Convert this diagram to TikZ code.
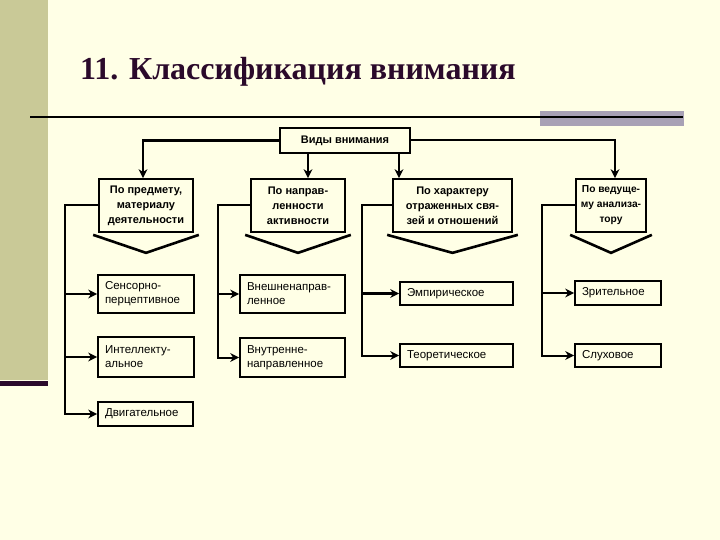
\documentclass[tikz,border=0pt]{standalone}
\usepackage{fontspec}
\setmainfont{Liberation Sans}
\newfontfamily\titlefont{Liberation Serif}
\usetikzlibrary{arrows.meta,calc}
\definecolor{bgc}{HTML}{FFFFE6}
\definecolor{bandc}{HTML}{C9C997}
\definecolor{purp}{HTML}{2B0A2B}
\definecolor{grayb}{HTML}{A8A1B5}
\tikzset{
  box/.style={draw=black,line width=1.7pt,fill=bgc,inner sep=2pt,font=\fontsize{11.5}{14}\selectfont},
  headbox/.style={box,font=\fontsize{11}{15}\selectfont\bfseries,align=center},
  leafbox/.style={box,align=left,inner xsep=7pt},
  conn/.style={line width=2pt,line cap=rect},
  arr/.style={line width=2pt,-{Stealth[length=9pt,width=9pt]}},
  chev/.style={line width=2.6pt,line join=miter}
}
\begin{document}
\begin{tikzpicture}[x=1pt,y=-1pt]
\useasboundingbox (0,0) rectangle (720,540);
\fill[bgc] (0,0) rectangle (720,540);
% left band
\fill[bandc] (0,0) rectangle (48,380);
\fill[purp] (0,381) rectangle (48,386);
% gray bar and rule
\fill[grayb] (540,111) rectangle (684,126);
\draw[black,line width=2pt] (30,117.5) -- (683,117.5);
% title
\node[anchor=base west,inner sep=0pt,text=purp,font=\titlefont\fontsize{32}{36}\selectfont\bfseries] (title) at (80,80) {11. Классификация внимания};

% top box
\node[headbox,minimum width=130pt,minimum height=25pt] (vid) at (345,140.5) {Виды внимания};
% level 1
\node[headbox,minimum width=94pt,minimum height=53pt] (b1) at (146,205.5) {По предмету,\\материалу\\деятельности};
\node[headbox,minimum width=94pt,minimum height=53pt] (b2) at (298,205.5) {По направ-\\ленности\\активности};
\node[headbox,minimum width=119pt,minimum height=53pt] (b3) at (452.5,205.5) {По характеру\\отраженных свя-\\зей и отношений};
\node[headbox,minimum width=70pt,minimum height=53pt,font=\fontsize{10.2}{15}\selectfont\bfseries] (b4) at (611,205.5) {По ведуще-\\му анализа-\\тору};

% chevrons
\foreach \n in {b1,b2,b3,b4}{
  \draw[chev] ([xshift=-5pt,yshift=-2pt]\n.south west) -- ([yshift=-20pt]\n.south) -- ([xshift=5pt,yshift=-2pt]\n.south east);
}

% arrows from top box
\coordinate (a1) at ([xshift=-3pt]b1.north);
\coordinate (a2) at ([xshift=10pt]b2.north);
\coordinate (a3) at ([xshift=-53.5pt]b3.north);
\coordinate (a4) at ([xshift=4pt]b4.north);
\draw[arr,line width=2.6pt] (vid.west) -| (a1);
\draw[arr] (vid.south -| a2) -- (a2);
\draw[arr,line width=2.6pt] (vid.south -| a3) -- (a3);
\draw[arr] (vid.east) -| (a4);

% level 2 nodes
\node[leafbox,minimum width=96pt,minimum height=38pt,text width=82pt] (c11) at (146,294) {Сенсорно-\\перцептивное};
\node[leafbox,minimum width=96pt,minimum height=40pt,text width=82pt] (c12) at (146,357) {Интеллекту-\\альное};
\node[leafbox,minimum width=95pt,minimum height=24pt,text width=81pt] (c13) at (145.5,414) {Двигательное};
\node[leafbox,minimum width=105pt,minimum height=38pt,text width=91pt] (c21) at (292.5,294) {Внешненаправ-\\ленное};
\node[leafbox,minimum width=105pt,minimum height=39pt,text width=91pt] (c22) at (292.5,357.5) {Внутренне-\\направленное};
\node[leafbox,minimum width=113pt,minimum height=23pt,text width=99pt] (c31) at (456.5,293.5) {Эмпирическое};
\node[leafbox,minimum width=113pt,minimum height=23pt,text width=99pt] (c32) at (456.5,355.5) {Теоретическое};
\node[leafbox,minimum width=86pt,minimum height=24pt,text width=72pt] (c41) at (618,293) {Зрительное};
\node[leafbox,minimum width=86pt,minimum height=23pt,text width=72pt] (c42) at (618,355.5) {Слуховое};

% group spines
\coordinate (k1) at (65,0);
\coordinate (k2) at (218,0);
\coordinate (k3) at (362,0);
\coordinate (k4) at (542,0);
\draw[conn] (b1.west) -| (c13.west -| k1);
\draw[conn] (b2.west) -| (c22.west -| k2);
\draw[conn] (b3.west) -| (c32.west -| k3);
\draw[conn] (b4.west) -| (c42.west -| k4);
% branches
\draw[arr,line width=2.6pt] (c11.west -| k1) -- (c11.west);
\draw[arr] (c12.west -| k1) -- (c12.west);
\draw[arr,line width=2.6pt] (c13.west -| k1) -- (c13.west);
\draw[arr,line width=2.6pt] (c21.west -| k2) -- (c21.west);
\draw[arr] (c22.west -| k2) -- (c22.west);
\draw[arr,line width=2.6pt] (c31.west -| k3) -- (c31.west);
\draw[arr] (c32.west -| k3) -- (c32.west);
\draw[arr,line width=2.6pt] (c41.west -| k4) -- (c41.west);
\draw[arr] (c42.west -| k4) -- (c42.west);
\end{tikzpicture}
\end{document}
